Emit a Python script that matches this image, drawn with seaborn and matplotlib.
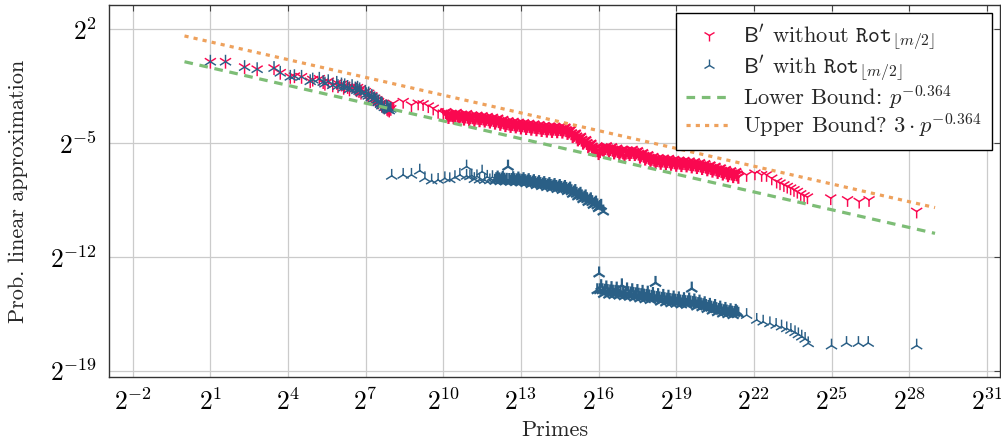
import numpy as np
import pandas as pd
import matplotlib
matplotlib.use("Agg")
import matplotlib.pyplot as plt
from matplotlib.lines import Line2D
from matplotlib.ticker import NullLocator
import seaborn as sns

# ---------------- data (log2 of prime, log2 of probability) ----------------
SMALL_PRIMES = [2, 3, 5, 7, 11, 13, 17, 19, 23, 29, 31, 37, 41, 43, 47, 53, 59, 61,
                67, 71, 73, 79, 83, 89, 97, 101, 103, 107, 109, 113, 127, 131, 137,
                139, 149, 151, 157, 163, 167, 173, 179, 181, 191, 193, 197, 199, 211,
                223, 227, 229, 233, 239, 241, 251]
SMALL_LOG2_PROB = [0.0, 0.0, -0.33, -0.46, -0.39, -0.68, -0.93, -0.89, -0.93, -1.20,
                   -1.10, -1.05, -1.25, -1.35, -1.20, -1.45, -1.30, -1.50, -1.40, -1.60,
                   -1.45, -1.55, -1.70, -1.50, -1.65, -1.75, -1.60, -1.80, -1.70, -1.90,
                   -1.85, -2.00, -2.10, -1.95, -2.20, -2.10, -2.30, -2.25, -2.40, -2.35,
                   -2.50, -2.45, -2.60, -2.55, -2.70, -2.60, -2.80, -2.75, -2.90, -2.80,
                   -2.95, -2.85, -3.00, -2.90]

# B' without Rot (beyond the small primes)
RED_LOG2_P = [8.06, 8.45, 8.77, 9.03, 9.22, 9.42, 9.61, 9.80, 10.0,
              10.1, 10.2, 10.3, 10.4, 10.5, 10.6, 10.7, 10.8, 10.9, 11.0,
              11.1, 11.2, 11.3, 11.4, 11.5, 11.6, 11.7, 11.8, 11.9, 12.0,
              12.1, 12.2, 12.3, 12.4, 12.5, 12.6, 12.7, 12.8, 12.9, 13.0,
              13.1, 13.2, 13.3, 13.4, 13.5, 13.6, 13.7, 13.8, 13.9, 14.0,
              14.1, 14.2, 14.3, 14.4, 14.5, 14.6, 14.7, 14.8, 14.9, 15.0,
              15.1, 15.2, 15.3, 15.4, 15.5, 15.6, 15.7, 15.8, 15.9, 16.0,
              16.1, 16.2, 16.3, 16.4, 16.5, 16.6, 16.7, 16.8, 16.9, 17.0,
              17.1, 17.2, 17.3, 17.4, 17.5, 17.6, 17.7, 17.8, 17.9, 18.0,
              18.1, 18.2, 18.3, 18.4, 18.5, 18.6, 18.7, 18.8, 18.9, 19.0,
              19.1, 19.2, 19.3, 19.4, 19.5, 19.6, 19.7, 19.8, 19.9, 20.0,
              20.1, 20.2, 20.3, 20.4, 20.5, 20.6, 20.7, 20.8, 20.9, 21.0,
              21.1, 21.2, 21.3, 21.4,
              21.72, 22.04, 22.30, 22.49, 22.69, 22.88, 23.01, 23.16, 23.29, 23.42,
              23.55, 23.68, 23.81, 23.94, 24.07, 24.97, 25.62, 26.07, 26.45, 28.29]
RED_LOG2_PROB = [-2.56, -2.46, -2.67, -2.56, -2.60, -2.73, -2.87, -3.08, -3.17,
                 -3.10, -3.40, -3.20, -3.42, -3.15, -3.45, -3.25, -3.50, -3.22, -3.55,
                 -3.30, -3.58, -3.32, -3.60, -3.35, -3.62, -3.40, -3.68, -3.45, -3.75,
                 -3.50, -3.82, -3.58, -3.90, -3.66, -3.95, -3.70, -3.98, -3.75, -4.05,
                 -3.78, -4.08, -3.82, -4.12, -3.86, -4.16, -3.90, -4.20, -3.95, -4.24,
                 -3.98, -4.26, -4.00, -4.28, -4.02, -4.30, -4.05, -4.38, -4.20, -4.58,
                 -4.42, -4.78, -4.62, -4.98, -4.82, -5.20, -5.04, -5.42, -5.26, -5.62,
                 -5.32, -5.44, -5.20, -5.48, -5.26, -5.58, -5.35, -5.64, -5.42, -5.74,
                 -5.45, -5.68, -5.42, -5.68, -5.50, -5.84, -5.62, -5.96, -5.75, -6.08,
                 -5.86, -6.18, -5.93, -6.22, -5.96, -6.24, -5.98, -6.28, -6.04, -6.34,
                 -6.08, -6.36, -6.10, -6.38, -6.14, -6.44, -6.18, -6.48, -6.24, -6.54,
                 -6.30, -6.62, -6.38, -6.70, -6.46, -6.78, -6.56, -6.88, -6.66, -6.98,
                 -6.74, -7.04, -6.78, -7.08,
                 -6.96, -6.86, -6.96, -6.96, -7.17, -7.37, -7.47, -7.58, -7.68, -7.78,
                 -7.88, -7.99, -8.13, -8.25, -8.33, -8.39, -8.50, -8.60, -8.50, -9.21]
# further primes of the dense red band (between the ones above)
RED_MID_LOG2_P = [10.15, 10.25, 10.35, 10.45, 10.55, 10.65, 10.75, 10.85, 10.95,
                  11.05, 11.15, 11.25, 11.35, 11.45, 11.55, 11.65, 11.75, 11.85, 11.95,
                  12.05, 12.15, 12.25, 12.35, 12.45, 12.55, 12.65, 12.75, 12.85, 12.95,
                  13.05, 13.15, 13.25, 13.35, 13.45, 13.55, 13.65, 13.75, 13.85, 13.95,
                  14.05, 14.15, 14.25, 14.35, 14.45, 14.55, 14.65, 14.75, 14.85, 14.95,
                  15.05, 15.15, 15.25, 15.35, 15.45, 15.55, 15.65, 15.75, 15.85, 15.95,
                  16.05, 16.15, 16.25, 16.35, 16.45, 16.55, 16.65, 16.75, 16.85, 16.95,
                  17.05, 17.15, 17.25, 17.35, 17.45, 17.55, 17.65, 17.75, 17.85, 17.95,
                  18.05, 18.15, 18.25, 18.35, 18.45, 18.55, 18.65, 18.75, 18.85, 18.95,
                  19.05, 19.15, 19.25, 19.35, 19.45, 19.55, 19.65, 19.75, 19.85, 19.95,
                  20.05, 20.15, 20.25, 20.35, 20.45, 20.55, 20.65, 20.75, 20.85, 20.95,
                  21.05, 21.15, 21.25, 21.35]
RED_MID_LOG2_PROB = [-3.25, -3.27, -3.28, -3.29, -3.31, -3.33, -3.35, -3.37, -3.39,
                     -3.41, -3.42, -3.44, -3.45, -3.47, -3.49, -3.51, -3.54, -3.56, -3.59,
                     -3.62, -3.66, -3.70, -3.74, -3.78, -3.81, -3.83, -3.85, -3.87, -3.89,
                     -3.91, -3.93, -3.95, -3.97, -3.99, -4.01, -4.03, -4.05, -4.07, -4.09,
                     -4.10, -4.11, -4.12, -4.13, -4.14, -4.15, -4.17, -4.21, -4.29, -4.40,
                     -4.50, -4.60, -4.70, -4.80, -4.90, -5.00, -5.11, -5.22, -5.33, -5.44,
                     -5.50, -5.38, -5.31, -5.34, -5.37, -5.42, -5.46, -5.49, -5.52, -5.58,
                     -5.59, -5.56, -5.55, -5.55, -5.58, -5.66, -5.73, -5.79, -5.85, -5.91,
                     -5.97, -6.02, -6.05, -6.07, -6.08, -6.09, -6.11, -6.13, -6.16, -6.19,
                     -6.20, -6.21, -6.23, -6.24, -6.26, -6.29, -6.31, -6.33, -6.36, -6.39,
                     -6.42, -6.46, -6.50, -6.54, -6.58, -6.62, -6.67, -6.72, -6.77, -6.82,
                     -6.86, -6.88, -6.91, -6.93]

# B' with Rot (beyond the small primes)
BLUE_LOG2_P = [8.006, 8.45, 8.77, 9.09, 9.29, 9.55, 9.80, 10.06, 10.25, 10.45, 10.64,
               10.90, 10.90, 11.03,
               11.1, 11.2, 11.3, 11.4, 11.5, 11.6, 11.7, 11.8, 11.9, 12.0,
               12.1, 12.2, 12.3, 12.4, 12.5, 12.6, 12.7, 12.8, 12.9, 13.0,
               13.1, 13.2, 13.3, 13.4, 13.5, 13.6, 13.7, 13.8, 13.9, 14.0,
               14.1, 14.2, 14.3, 14.4, 14.5, 14.6, 14.7, 14.8, 14.9, 15.0,
               15.1, 15.2, 15.3, 15.4, 15.5, 15.6, 15.7, 15.8, 15.9, 16.0,
               16.1, 16.18,
               15.95, 16.02, 16.1, 16.2, 16.3, 16.4, 16.5, 16.6, 16.7, 16.8, 16.9,
               17.0, 17.1, 17.2, 17.3, 17.4, 17.5, 17.6, 17.7, 17.8, 17.9,
               18.0, 18.1, 18.2, 18.3, 18.4, 18.5, 18.6, 18.7, 18.8, 18.9,
               19.0, 19.1, 19.2, 19.3, 19.4, 19.5, 19.6, 19.7, 19.8, 19.9,
               20.0, 20.1, 20.2, 20.3, 20.4, 20.5, 20.6, 20.7, 20.8, 20.9,
               21.0, 21.1, 21.2, 21.3, 21.4,
               21.72, 22.11, 22.36, 22.62, 22.86, 23.07, 23.27, 23.43, 23.59, 23.72,
               23.85, 23.98, 24.10, 25.0, 25.58, 26.04, 26.42, 28.29]
BLUE_LOG2_PROB = [-7.02, -6.96, -6.96, -6.70, -7.17, -7.31, -7.27, -7.17, -7.23, -7.10,
                  -6.96, -6.45, -7.02, -7.05,
                  -7.00, -7.22, -7.05, -7.25, -6.76, -7.28, -7.08, -7.30, -7.10, -7.32,
                  -7.12, -7.34, -7.14, -7.36, -6.45, -7.38, -7.16, -7.40, -7.18, -7.42,
                  -7.22, -7.46, -7.28, -7.52, -7.34, -7.58, -7.40, -7.64, -7.46, -7.70,
                  -7.52, -7.76, -7.58, -7.82, -7.64, -7.88, -7.70, -7.95, -7.80, -8.12,
                  -7.95, -8.28, -8.12, -8.45, -8.28, -8.62, -8.46, -8.80, -8.66, -9.00,
                  -8.86, -9.21,
                  -14.05, -13.02, -13.80, -14.28, -13.88, -14.32, -13.92, -14.35, -13.95,
                  -14.38, -13.75,
                  -14.42, -14.00, -14.45, -14.05, -14.50, -14.10, -14.55, -14.15, -14.60,
                  -14.20,
                  -14.65, -14.28, -13.60, -14.35, -14.75, -14.40, -14.80, -14.45, -14.85,
                  -14.50,
                  -14.88, -14.55, -14.92, -14.60, -14.95, -14.62, -13.95, -14.68, -15.05,
                  -14.75,
                  -15.10, -14.85, -15.20, -14.95, -15.30, -15.02, -15.40, -15.12, -15.48,
                  -15.20,
                  -15.52, -15.28, -15.58, -15.32, -15.50,
                  -15.58, -15.88, -15.99, -16.09, -16.19, -16.29, -16.40, -16.50, -16.64,
                  -16.77, -16.91, -17.05, -17.32, -17.46, -17.30, -17.30, -17.30, -17.46]
# further primes of the dense blue bands (between the ones above)
BLUE_MID_LOG2_P = [12.05, 12.15, 12.25, 12.35, 12.45, 12.55, 12.65, 12.75, 12.85, 12.95,
                   13.05, 13.15, 13.25, 13.35, 13.45, 13.55, 13.65, 13.75, 13.85, 13.95,
                   14.05, 14.15, 14.25, 14.35, 14.45, 14.55, 14.65, 14.75, 14.85, 14.95,
                   15.05, 15.15, 15.25, 15.35, 15.45, 15.55, 15.65, 15.75, 15.85, 15.95,
                   16.05,
                   16.05, 16.15, 16.25, 16.35, 16.45, 16.55, 16.65, 16.75, 16.85, 16.95,
                   17.05, 17.15, 17.25, 17.35, 17.45, 17.55, 17.65, 17.75, 17.85, 17.95,
                   18.05, 18.15, 18.25, 18.35, 18.45, 18.55, 18.65, 18.75, 18.85, 18.95,
                   19.05, 19.15, 19.25, 19.35, 19.45, 19.55, 19.65, 19.75, 19.85, 19.95,
                   20.05, 20.15, 20.25, 20.35, 20.45, 20.55, 20.65, 20.75, 20.85, 20.95,
                   21.05, 21.15, 21.25, 21.35]
BLUE_MID_LOG2_PROB = [-7.22, -7.23, -7.24, -7.25, -7.26, -7.27, -7.27, -7.28, -7.29, -7.30,
                      -7.32, -7.34, -7.37, -7.40, -7.43, -7.46, -7.49, -7.52, -7.55, -7.58,
                      -7.61, -7.64, -7.67, -7.70, -7.73, -7.76, -7.79, -7.82, -7.87, -7.96,
                      -8.04, -8.12, -8.20, -8.28, -8.36, -8.45, -8.54, -8.63, -8.73, -8.83,
                      -8.93,
                      -14.05, -14.05, -14.08, -14.10, -14.12, -14.14, -14.15, -14.17, -14.18,
                      -14.20,
                      -14.21, -14.23, -14.25, -14.28, -14.30, -14.33, -14.35, -14.38, -14.40,
                      -14.43,
                      -14.46, -14.50, -14.53, -14.55, -14.58, -14.60, -14.63, -14.65, -14.67,
                      -14.69,
                      -14.71, -14.74, -14.76, -14.78, -14.79, -14.80, -14.83, -14.86, -14.90,
                      -14.93,
                      -14.97, -15.02, -15.08, -15.12, -15.16, -15.21, -15.26, -15.30, -15.34,
                      -15.36,
                      -15.40, -15.43, -15.45, -15.41]

# bounds: p^-0.364 and 3 * p^-0.364 for p in [2^0, 2^29]
BOUND_LOG2_P = [0.0, 29.0]
BOUND_EXPONENT = -0.364
UPPER_FACTOR = 3.0

XTICK_EXP = [-2, 1, 4, 7, 10, 13, 16, 19, 22, 25, 28, 31]
YTICK_EXP = [2, -5, -12, -19]

LABEL_RED = r"$\mathsf{B}'$ without $\mathtt{Rot}_{\lfloor m/2\rfloor}$"
LABEL_BLUE = r"$\mathsf{B}'$ with $\mathtt{Rot}_{\lfloor m/2\rfloor}$"
LABEL_LOW = r"Lower Bound: $p^{-0.364}$"
LABEL_UP = r"Upper Bound? $3\cdot p^{-0.364}$"

RED = "#fa0850"
BLUE = "#2a5f86"
GREEN = "#7dbd76"
ORANGE = "#eea15c"

# ---------------- style ----------------
sns.set_theme(style="white")
plt.rcParams["font.family"] = ["cmr10", "DejaVu Sans"]
plt.rcParams["mathtext.fontset"] = "cm"
plt.rcParams["axes.formatter.use_mathtext"] = True

fig = plt.figure(figsize=(10.01, 4.45), dpi=100)
ax = fig.add_axes([0.1092, 0.1528, 0.8898, 0.836])
ax.set_xscale("log", base=2)
ax.set_yscale("log", base=2)

small_p = np.array(SMALL_PRIMES, dtype=float)
small_y = 2.0 ** np.array(SMALL_LOG2_PROB)


def series_frame(extra_p, extra_y, mid_p, mid_y):
    log2p = np.concatenate([np.log2(small_p), extra_p, mid_p])
    log2y = np.concatenate([np.log2(small_y), extra_y, mid_y])
    return pd.DataFrame({"p": 2.0 ** log2p, "prob": 2.0 ** log2y, "lx": log2p})


red_df = series_frame(RED_LOG2_P, RED_LOG2_PROB, RED_MID_LOG2_P, RED_MID_LOG2_PROB)
blue_df = series_frame(BLUE_LOG2_P, BLUE_LOG2_PROB, BLUE_MID_LOG2_P, BLUE_MID_LOG2_PROB)

# where the primes are very dense the overlapping marks form a solid band:
# a slightly heavier stroke there reproduces that look
red_lw = np.where((red_df["lx"] >= 10.1) & (red_df["lx"] <= 21.45), 1.6, 1.05)
blue_lw = np.where(((blue_df["lx"] >= 12.0) & (blue_df["lx"] <= 16.2)) |
                   ((blue_df["lx"] >= 15.9) & (blue_df["lx"] <= 21.45)), 1.6, 1.05)

MS = 10.0
sns.scatterplot(data=red_df, x="p", y="prob", marker="1", color=RED, s=MS ** 2,
                linewidth=red_lw, ax=ax, zorder=3, legend=False)
sns.scatterplot(data=blue_df, x="p", y="prob", marker="2", color=BLUE, s=MS ** 2,
                linewidth=blue_lw, ax=ax, zorder=3, legend=False)

bp = 2.0 ** np.array(BOUND_LOG2_P)
low_df = pd.DataFrame({"p": bp, "prob": bp ** BOUND_EXPONENT})
up_df = pd.DataFrame({"p": bp, "prob": UPPER_FACTOR * bp ** BOUND_EXPONENT})
sns.lineplot(data=low_df, x="p", y="prob", color=GREEN, lw=2.3,
             linestyle=(0, (2.7, 2.1)), ax=ax, zorder=4, legend=False)
sns.lineplot(data=up_df, x="p", y="prob", color=ORANGE, lw=2.3,
             linestyle=(0, (1.3, 1.6)), ax=ax, zorder=4, legend=False)

# axes
ax.set_xlim(2.0 ** -2.905, 2.0 ** 31.51)
ax.set_ylim(2.0 ** -19.39, 2.0 ** 3.49)
ax.set_xticks([2.0 ** k for k in XTICK_EXP])
ax.set_xticklabels([rf"$2^{{{k}}}$" for k in XTICK_EXP])
ax.set_yticks([2.0 ** k for k in YTICK_EXP])
ax.set_yticklabels([rf"$2^{{{k}}}$" for k in YTICK_EXP])
ax.xaxis.set_minor_locator(NullLocator())
ax.yaxis.set_minor_locator(NullLocator())
ax.tick_params(axis="both", which="major", direction="in", length=4, width=0.8,
               color="#444444", labelsize=18.5, top=True, right=True,
               labelcolor="black")
ax.tick_params(axis="x", pad=8)
ax.tick_params(axis="y", pad=9)
ax.grid(True, color="#cbcbcb", lw=0.9)
ax.set_axisbelow(True)
for sp in ax.spines.values():
    sp.set_color("#333333")
    sp.set_linewidth(1.0)

ax.set_xlabel("Primes", fontsize=16)
ax.set_ylabel("Prob. linear approximation", fontsize=16)
ax.xaxis.set_label_coords(0.5, -0.118)
ax.yaxis.set_label_coords(-0.0913, 0.5)

handles = [
    Line2D([], [], ls="none", marker="1", color=RED, ms=8.5, mew=1.0),
    Line2D([], [], ls="none", marker="2", color=BLUE, ms=8.5, mew=1.0),
    Line2D([], [], color=GREEN, lw=2.3, ls=(0, (2.7, 2.1))),
    Line2D([], [], color=ORANGE, lw=2.3, ls=(0, (1.3, 1.6))),
]
leg = ax.legend(handles, [LABEL_RED, LABEL_BLUE, LABEL_LOW, LABEL_UP],
                loc="upper right", bbox_to_anchor=(0.991, 0.978), borderaxespad=0,
                fontsize=16.2, frameon=True, fancybox=False, framealpha=1,
                edgecolor="black", handlelength=2.0, handletextpad=0.55,
                labelspacing=0.0, borderpad=0.45)
leg.get_frame().set_linewidth(1.0)
leg.set_zorder(10)

fig.savefig("out.png", dpi=100)
